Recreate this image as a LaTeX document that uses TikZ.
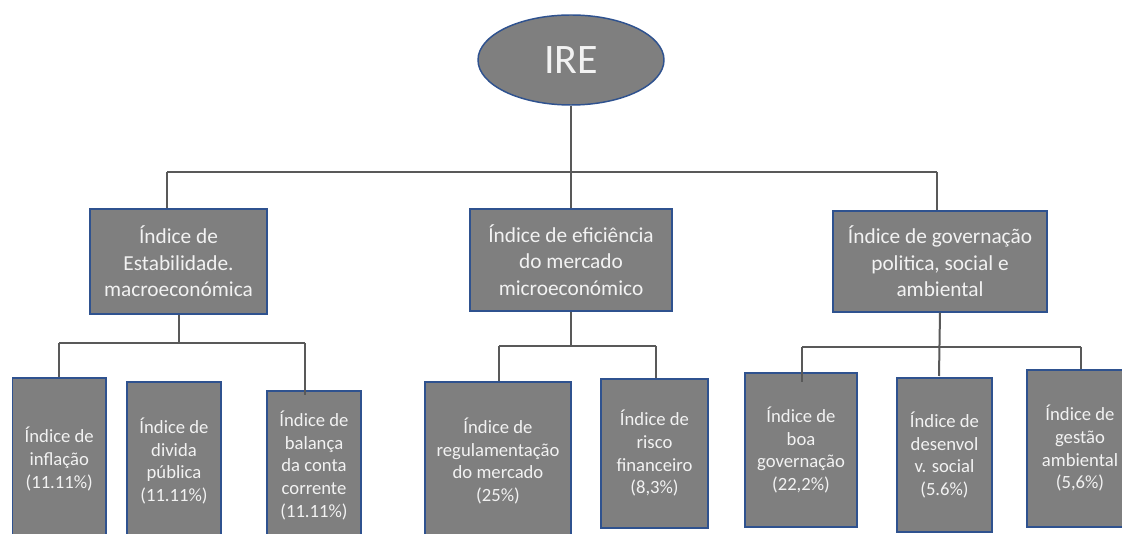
\documentclass[tikz,border=0pt]{standalone}
\usepackage{fontspec}
\setmainfont{Carlito}
\usetikzlibrary{shapes.geometric}
\definecolor{boxgray}{HTML}{7F7F7F}
\definecolor{boxblue}{HTML}{2F528F}
\definecolor{linegray}{HTML}{595959}
\definecolor{txtcol}{HTML}{F2F2F2}
\begin{document}
\begin{tikzpicture}[x=0.75pt,y=-0.75pt,
  box/.style={draw=boxblue, line width=1.1pt, fill=boxgray, text=txtcol, align=center, inner sep=0pt},
  leaf/.style={box, font=\fontsize{14}{17}\selectfont},
  midbox/.style={box, font=\fontsize{16}{20}\selectfont},
  conn/.style={draw=linegray, line width=1.5pt}]
\useasboundingbox (0,0) rectangle (1122,534);
\clip (0,0) rectangle (1122,534);
\fill[white] (0,0) rectangle (1122,534);

% root
\node[ellipse, draw=boxblue, line width=1.1pt, fill=boxgray, text=txtcol, inner sep=0pt,
      minimum width=139.5pt, minimum height=67.5pt, font=\fontsize{31.5}{36}\selectfont] (ire) at (571,60) {IRE};

% middle level
\node[midbox, minimum width=132.75pt, minimum height=78.75pt] (m1) at (178.5,261.5) {Índice de\\Estabilidade.\\macroeconómica};
\node[midbox, minimum width=151.5pt, minimum height=76.5pt] (m2) at (571,260) {Índice de eficiência\\do mercado\\microeconómico};
\node[midbox, minimum width=160.5pt, minimum height=75.75pt] (m3) at (940,261.5) {Índice de governação\\politica, social e\\ambiental};

% leaves
\node[leaf, minimum width=70.1pt, minimum height=121.5pt] (a) at (59.25,459) {Índice de\\inflação\\(11.11\%)};
\node[leaf, minimum width=70.5pt, minimum height=118.5pt] (b) at (174,461) {Índice de\\divida\\pública\\(11.11\%)};
\node[leaf, minimum width=70.5pt, minimum height=111.75pt] (c) at (314,465.5) {Índice de\\balança\\da conta\\corrente\\(11.11\%)};
\node[leaf, minimum width=109.5pt, minimum height=118.5pt] (d) at (498,461) {Índice de\\regulamentação\\do mercado\\(25\%)};
\node[leaf, minimum width=80.25pt, minimum height=111.75pt] (e) at (654.5,453.5) {Índice de\\risco\\financeiro\\(8,3\%)};
\node[leaf, minimum width=84pt, minimum height=115.5pt] (f) at (801,450) {Índice de\\boa\\governação\\(22,2\%)};
\node[leaf, minimum width=71.25pt, minimum height=115.5pt] (g) at (944.5,455) {Índice de\\desenvol\\v. social\\(5.6\%)};
\node[leaf, minimum width=79.5pt, minimum height=117.75pt] (h) at (1080,448.5) {Índice de\\gestão\\ambiental\\(5,6\%)};

% connector coordinates
\coordinate (t1) at (167,172);
\coordinate (t3) at (937,172);
\coordinate (l1) at (59,343);
\coordinate (r1) at (305,343);
\coordinate (cEnd) at (305,395);
\coordinate (l2) at (499,346);
\coordinate (r2) at (656,346);
\coordinate (l3) at (802,347);
\coordinate (r3) at (1081,347);
\coordinate (fEnd) at (802,382);
\coordinate (gEnd) at (939,376);

% top level
\draw[conn] (ire.south) -- (m2.north);
\draw[conn] (t1) -- (t3);
\draw[conn] (t1) -- (t1 |- m1.north);
\draw[conn] (t3) -- (t3 |- m3.north);

% group 1
\draw[conn] (m1.south) -- (m1.south |- l1);
\draw[conn] (l1) -- (r1);
\draw[conn] (l1) -- (l1 |- a.north);
\draw[conn] (r1) -- (cEnd);

% group 2
\draw[conn] (m2.south) -- (m2.south |- l2);
\draw[conn] (l2) -- (r2);
\draw[conn] (l2) -- (l2 |- d.north);
\draw[conn] (r2) -- (r2 |- e.north);

% group 3
\draw[conn] (m3.south) -- (gEnd);
\draw[conn] (l3) -- (r3);
\draw[conn] (l3) -- (fEnd);
\draw[conn] (r3) -- (r3 |- h.north);
\end{tikzpicture}
\end{document}
